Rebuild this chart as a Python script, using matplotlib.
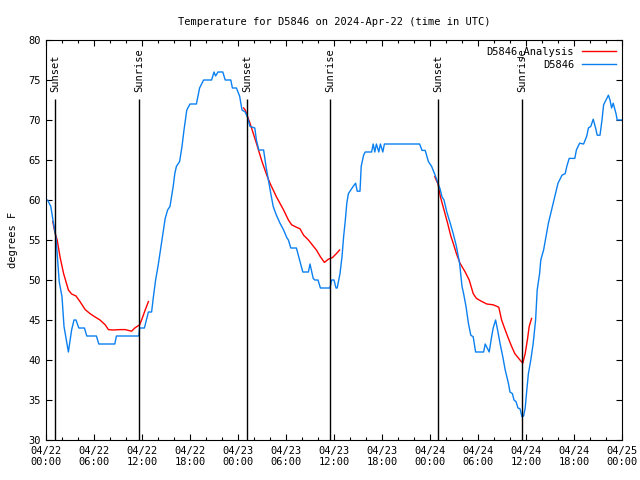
import numpy as np
import matplotlib
matplotlib.use('Agg')
import matplotlib.pyplot as plt
from matplotlib.ticker import MultipleLocator

# hours since 2024-04-22 00:00 UTC
obs_hours = [0.0, 0.2, 0.6, 0.9, 1.25, 1.65, 2.0, 2.25, 2.8, 3.2, 3.5, 3.75, 4.1, 4.8, 5.1, 6.3, 6.6, 8.6, 8.8,
             11.6, 11.7, 12.3, 12.8, 13.2, 13.4, 13.7, 14.0, 14.5, 14.9, 15.2, 15.5, 15.9, 16.1, 16.3, 16.7,
             17.0, 17.25, 17.6, 18.0, 18.8, 19.2, 19.7, 20.7, 21.0, 21.2, 21.5, 22.1, 22.4, 23.1, 23.3, 23.8,
             24.2, 24.5, 24.9, 25.2, 25.5, 26.1, 26.3, 26.6, 27.2, 27.5, 27.8, 28.1, 28.4, 28.8, 29.25, 29.7,
             30.1, 30.3, 30.6, 31.3, 31.7, 32.1, 32.8, 33.0, 33.4, 33.6, 34.0, 34.3, 35.5, 35.7, 36.0, 36.25,
             36.4, 36.75, 37.0, 37.2, 37.4, 37.6, 37.8, 38.1, 38.4, 38.7, 38.9, 39.25, 39.4, 39.7, 39.9, 40.7,
             40.9, 41.1, 41.3, 41.6, 41.8, 42.1, 42.3, 43.0, 46.7, 47.0, 47.4, 47.8, 48.2, 48.6, 49.0, 49.25,
             49.5, 49.75, 50.1, 50.5, 50.9, 51.3, 51.7, 52.0, 52.2, 52.5, 52.8, 53.1, 53.4, 53.7, 54.7, 54.9,
             55.4, 55.7, 55.9, 56.2, 56.45, 56.75, 57.1, 57.4, 57.8, 58.0, 58.3, 58.5, 58.75, 59.0, 59.25,
             59.5, 59.7, 59.9, 60.1, 60.3, 60.6, 60.9, 61.2, 61.4, 61.7, 61.85, 62.2, 62.5, 62.8, 63.2, 63.6,
             64.0, 64.5, 64.9, 65.1, 65.4, 66.1, 66.3, 66.7, 67.2, 67.6, 67.8, 68.1, 68.4, 68.7, 68.9, 69.25,
             69.5, 69.7, 70.0, 70.3, 70.5, 70.7, 70.9, 71.25, 71.4, 71.75, 72.0]
obs_temp = [60, 60, 59.2, 57.3, 55.3, 49.8, 47.9, 44.2, 41, 43.75, 45, 45, 44, 44, 43, 43, 42, 42, 43,
            43, 44, 44, 46, 46, 47.7, 50, 51.7, 55, 57.7, 58.75, 59.2, 61.7, 63.3, 64.2, 64.8,
            66.7, 68.75, 71.25, 72, 72, 74, 75, 75, 76, 75.5, 76, 76, 75, 75, 74, 74,
            73, 71.25, 71, 70.3, 69.2, 69, 67.5, 66.25, 66.25, 64.2, 62.5, 60.8, 59.2, 58.1, 57.1, 56.25,
            55.3, 55, 54, 54, 52.5, 51, 51, 52, 50.2, 50, 50, 49, 49, 50, 50, 49,
            49, 50.8, 52.9, 55.4, 57.3, 59.6, 60.8, 61.25, 61.7, 62.1, 61.1, 61.1, 64.2, 65.6, 66, 66,
            67, 66, 67, 66, 67, 66, 67, 67, 67, 66.2, 66.2, 64.8, 64.2, 63.2, 62.1, 61.4,
            60.4, 60, 58.5, 57.2, 55.8, 54.2, 52.1, 49.2, 48.3, 46.7, 44.6, 43.1, 42.9, 41, 41, 42,
            41, 42.9, 44, 45, 43.75, 42.1, 40.4, 38.75, 37.1, 36, 35.8, 35, 34.8, 34, 33.9,
            32.9, 33, 34, 36.25, 38.3, 40, 42.1, 45, 48.75, 50.8, 52.5, 53.75, 55.4, 57.1, 58.75, 60.4,
            62.1, 63.1, 63.3, 64.2, 65.2, 65.2, 66.25, 67.1, 67, 68, 69, 69.2, 70.1, 69, 68.1, 68.1,
            70, 71.9, 72.5, 73.1, 72.5, 71.5, 72.1, 70.8, 70, 70, 70]

# analysis, three separate pieces
ana_hours_1 = [0.85, 1.1, 1.4, 1.75, 2.2, 2.8, 3.2, 3.75, 4.25, 4.9, 5.5, 6.1, 6.75, 7.4, 7.8, 8.4, 9.25,
               9.9, 10.3, 10.7, 11.1, 11.7, 11.95, 12.4, 12.8]
ana_temp_1 = [57.3, 56, 55, 52.9, 50.8, 48.75, 48.25, 48, 47.3, 46.3, 45.8, 45.4, 45, 44.4, 43.8, 43.75, 43.8,
              43.8, 43.7, 43.6, 44, 44.4, 45, 46.25, 47.3]
ana_hours_2 = [24.7, 24.9, 25.5, 26.3, 27.0, 27.6, 28.0, 28.8, 29.7, 30.3, 30.7, 31.3, 31.75, 32.2, 32.8,
               33.8, 34.3, 34.8, 35.3, 35.8, 36.3, 36.7]
ana_temp_2 = [71.5, 71.25, 69.6, 67.1, 64.8, 63.1, 62.1, 60.4, 58.75, 57.5, 56.9, 56.6, 56.4, 55.6, 55,
              53.75, 52.9, 52.2, 52.6, 52.8, 53.3, 53.75]
ana_hours_3 = [48.6, 49.0, 49.3, 49.75, 50.2, 50.6, 50.9, 51.3, 51.75, 52.4, 52.9, 53.4, 53.8, 54.5, 55.1,
               55.9, 56.6, 56.95, 57.4, 57.8, 58.2, 58.6, 59.25, 59.6, 59.9, 60.2, 60.4, 60.7]
ana_temp_3 = [62.9, 62, 60.4, 58.75, 57.1, 55.5, 54.6, 53.3, 52.1, 51, 50, 48.3, 47.7, 47.3, 47,
              46.9, 46.6, 45, 43.75, 42.7, 41.7, 40.8, 40, 39.6, 40.8, 42.7, 44.2, 45.2]

sun_hours = [1.15, 11.65, 25.15, 35.55, 49.05, 59.55]
sun_labels = ['Sunset', 'Sunrise', 'Sunset', 'Sunrise', 'Sunset', 'Sunrise']

tick_hours = [0, 6, 12, 18, 24, 30, 36, 42, 48, 54, 60, 66, 72]
tick_labels = ['04/22\n00:00', '04/22\n06:00', '04/22\n12:00', '04/22\n18:00',
               '04/23\n00:00', '04/23\n06:00', '04/23\n12:00', '04/23\n18:00',
               '04/24\n00:00', '04/24\n06:00', '04/24\n12:00', '04/24\n18:00',
               '04/25\n00:00']

plt.rcParams['font.family'] = 'DejaVu Sans Mono'
plt.rcParams['font.size'] = 7.5

fig = plt.figure(figsize=(6.4, 4.8), dpi=100)
ax = fig.add_axes([46/640, 40/480, 576/640, 400/480])

red = '#ff0000'
blue = '#0a80f0'
ax.plot(ana_hours_1, ana_temp_1, color=red, lw=1, label='D5846_Analysis')
ax.plot(ana_hours_2, ana_temp_2, color=red, lw=1)
ax.plot(ana_hours_3, ana_temp_3, color=red, lw=1)
ax.plot(obs_hours, obs_temp, color=blue, lw=1, label='D5846')

# sunrise / sunset markers
ax.vlines(sun_hours, 30, 72.6, color='black', lw=1)
for h, lab in zip(sun_hours, sun_labels):
    ax.text(h, 73.5, lab, rotation=90, ha='center', va='bottom', fontsize=7.5)

ax.set_xlim(0, 72)
ax.set_ylim(30, 80)
ax.set_xticks(tick_hours)
ax.set_xticklabels(tick_labels)
ax.xaxis.set_minor_locator(MultipleLocator(2))
ax.yaxis.set_major_locator(MultipleLocator(5))
ax.tick_params(which='both', direction='in', top=True, right=True)
ax.tick_params(which='major', length=4, width=0.8)
ax.tick_params(which='minor', length=2.5, width=0.8)
ax.tick_params(axis='x', pad=4)

ax.set_ylabel('degrees F', labelpad=8)
ax.set_title('Temperature for D5846 on 2024-Apr-22 (time in UTC)', fontsize=7.5, pad=11)

ax.legend(loc='upper right', frameon=False, markerfirst=False, handlelength=3.2,
          borderaxespad=0.2, labelspacing=0.25, fontsize=7.5)

fig.savefig('out.png', dpi=100)
